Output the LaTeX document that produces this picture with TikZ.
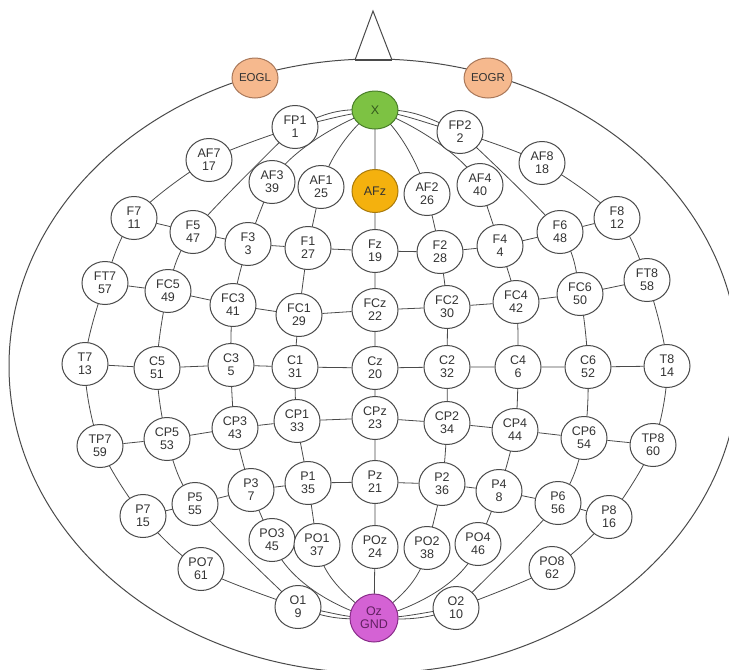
\documentclass[tikz,border=0pt]{standalone}
\usepackage{fontspec}
\setmainfont{Liberation Sans}
\usetikzlibrary{backgrounds,shapes.geometric}
\definecolor{xgreen}{HTML}{7DC243}
\definecolor{xgreenD}{HTML}{4A7F2A}
\definecolor{afzor}{HTML}{F4B10E}
\definecolor{afzorD}{HTML}{A97A0A}
\definecolor{ozmag}{HTML}{D462D4}
\definecolor{ozmagD}{HTML}{8A2D8A}
\definecolor{eogpe}{HTML}{F6B98E}
\definecolor{eogpeD}{HTML}{A9785A}
\definecolor{linec}{HTML}{4A4A4A}
\begin{document}
\begin{tikzpicture}[x=1pt,y=-1pt,
  el/.style={ellipse, draw=linec, line width=1pt, fill=white,
    minimum width=46pt, minimum height=43pt, inner sep=0pt, align=center,
    font=\fontsize{12.5}{13}\selectfont, text=black!80},
  wire/.style={draw=linec, line width=0.8pt},
  mer/.style={wire, smooth, tension=0.5}]
\useasboundingbox (0,0) rectangle (729,670);

% head outline and nose
\draw[wire, line width=1pt] (374,366) ellipse [x radius=365, y radius=307];
\coordinate (nA) at (373,11);
\coordinate (nL) at (355,60);
\coordinate (nR) at (392,60);
\draw[wire, fill=white, line width=1pt] (nL) -- (nA) -- (nR);
\draw[draw=linec, line width=2pt] (nL) -- (nR);

% special nodes
\node[el, fill=eogpe, draw=eogpeD, minimum height=40pt, font=\fontsize{11.5}{12}\selectfont] (EOGL) at (255,78) {EOGL};
\node[el, fill=eogpe, draw=eogpeD, minimum height=40pt, font=\fontsize{11.5}{12}\selectfont] (EOGR) at (488,78) {EOGR};
\node[el, fill=xgreen, draw=xgreenD, minimum height=38pt, text=xgreenD!70!black] (X) at (375,110) {X};

% electrodes
\node[el] (FP1) at (295,127) {FP1\\1};
\node[el] (FP2) at (460,132) {FP2\\2};
\node[el] (AF7) at (209,160) {AF7\\17};
\node[el] (AF8) at (542,163) {AF8\\18};
\node[el] (AF3) at (272,182) {AF3\\39};
\node[el] (AF1) at (321,187) {AF1\\25};
\node[el, fill=afzor, draw=afzorD] (AFz) at (375,191) {AFz};
\node[el] (AF2) at (427,194) {AF2\\26};
\node[el] (AF4) at (480,185) {AF4\\40};

\node[el] (F7) at (134,218) {F7\\11};
\node[el] (F5) at (193,232) {F5\\47};
\node[el] (F3) at (248,244) {F3\\3};
\node[el] (F1) at (308,248) {F1\\27};
\node[el] (Fz) at (375,251) {Fz\\19};
\node[el] (F2) at (440,252) {F2\\28};
\node[el] (F4) at (500,246) {F4\\4};
\node[el] (F6) at (560,232) {F6\\48};
\node[el] (F8) at (617,218) {F8\\12};

\node[el] (FT7) at (105,283) {FT7\\57};
\node[el] (FC5) at (168,291) {FC5\\49};
\node[el] (FC3) at (233,305) {FC3\\41};
\node[el] (FC1) at (299,315) {FC1\\29};
\node[el] (FCz) at (375,310) {FCz\\22};
\node[el] (FC2) at (447,307) {FC2\\30};
\node[el] (FC4) at (516,302) {FC4\\42};
\node[el] (FC6) at (580,294) {FC6\\50};
\node[el] (FT8) at (647,280) {FT8\\58};

\node[el] (T7) at (85,364) {T7\\13};
\node[el] (C5) at (157,368) {C5\\51};
\node[el] (C3) at (231,365) {C3\\5};
\node[el] (C1) at (295,367) {C1\\31};
\node[el] (Cz) at (375,368) {Cz\\20};
\node[el] (C2) at (447,367) {C2\\32};
\node[el] (C4) at (518,367) {C4\\6};
\node[el] (C6) at (588,367) {C6\\52};
\node[el] (T8) at (667,366) {T8\\14};

\node[el] (TP7) at (100,446) {TP7\\59};
\node[el] (CP5) at (167,439) {CP5\\53};
\node[el] (CP3) at (235,428) {CP3\\43};
\node[el] (CP1) at (297,421) {CP1\\33};
\node[el] (CPz) at (375,418) {CPz\\23};
\node[el] (CP2) at (447,423) {CP2\\34};
\node[el] (CP4) at (515,430) {CP4\\44};
\node[el] (CP6) at (584,438) {CP6\\54};
\node[el] (TP8) at (653,445) {TP8\\60};

\node[el] (P7) at (143,516) {P7\\15};
\node[el] (P5) at (195,504) {P5\\55};
\node[el] (P3) at (251,490) {P3\\7};
\node[el] (P1) at (308,483) {P1\\35};
\node[el] (Pz) at (375,482) {Pz\\21};
\node[el] (P2) at (442,484) {P2\\36};
\node[el] (P4) at (499,491) {P4\\8};
\node[el] (P6) at (558,503) {P6\\56};
\node[el] (P8) at (609,517) {P8\\16};

\node[el] (PO7) at (201,569) {PO7\\61};
\node[el] (PO3) at (272,540) {PO3\\45};
\node[el] (PO1) at (317,545) {PO1\\37};
\node[el] (POz) at (375,547) {POz\\24};
\node[el] (PO2) at (427,548) {PO2\\38};
\node[el] (PO4) at (478,544) {PO4\\46};
\node[el] (PO8) at (552,568) {PO8\\62};

\node[el] (O1) at (298,607) {O1\\9};
\node[el, fill=ozmag, draw=ozmagD, minimum height=48pt, minimum width=48pt, text=ozmagD!70!black] (Oz) at (374,618) {Oz\\GND};
\node[el] (O2) at (456,608) {O2\\10};

% meridians
\begin{scope}[on background layer]
% left outer
\draw[wire] (X.center) .. controls +(-38,-2) and +(32,-14) .. (FP1.center);
\draw[mer] plot coordinates {(FP1.center) (AF7.center) (F7.center) (FT7.center) (T7.center) (TP7.center) (P7.center) (PO7.center) (O1.center)};
\draw[wire] (O1.center) .. controls +(32,4) and +(-32,0) .. (Oz.center);
% left second
\draw[wire] (X.center) .. controls +(-35,5) and +(28,-6) .. (FP1.center);
\draw[mer] plot coordinates {(FP1.center) (F5.center) (FC5.center) (C5.center) (CP5.center) (P5.center) (O1.center)};
\draw[wire] (O1.center) .. controls +(30,12) and +(-30,2) .. (Oz.center);
% left third
\draw[wire] (X.center) .. controls +(-32,10) and +(15,-30) .. (AF3.center);
\draw[mer] plot coordinates {(AF3.center) (F3.center) (FC3.center) (C3.center) (CP3.center) (P3.center) (PO3.center)};
\draw[wire] (PO3.center) .. controls +(12,40) and +(-35,-8) .. (Oz.center);
% left fourth
\draw[wire] (X.center) .. controls +(-22,15) and +(8,-30) .. (AF1.center);
\draw[mer] plot coordinates {(AF1.center) (F1.center) (FC1.center) (C1.center) (CP1.center) (P1.center) (PO1.center)};
\draw[wire] (PO1.center) .. controls +(6,35) and +(-22,-18) .. (Oz.center);
% midline
\draw[wire] (X.center) -- (AFz.center) -- (Fz.center) -- (FCz.center) -- (Cz.center) -- (CPz.center) -- (Pz.center) -- (POz.center) -- (Oz.center);
% right fourth
\draw[wire] (X.center) .. controls +(22,15) and +(-8,-30) .. (AF2.center);
\draw[mer] plot coordinates {(AF2.center) (F2.center) (FC2.center) (C2.center) (CP2.center) (P2.center) (PO2.center)};
\draw[wire] (PO2.center) .. controls +(-6,35) and +(22,-18) .. (Oz.center);
% right third
\draw[wire] (X.center) .. controls +(32,10) and +(-15,-30) .. (AF4.center);
\draw[mer] plot coordinates {(AF4.center) (F4.center) (FC4.center) (C4.center) (CP4.center) (P4.center) (PO4.center)};
\draw[wire] (PO4.center) .. controls +(-12,40) and +(35,-8) .. (Oz.center);
% right second
\draw[wire] (X.center) .. controls +(35,5) and +(-28,-6) .. (FP2.center);
\draw[mer] plot coordinates {(FP2.center) (F6.center) (FC6.center) (C6.center) (CP6.center) (P6.center) (O2.center)};
\draw[wire] (O2.center) .. controls +(-30,12) and +(30,2) .. (Oz.center);
% right outer
\draw[wire] (X.center) .. controls +(38,-2) and +(-32,-14) .. (FP2.center);
\draw[mer] plot coordinates {(FP2.center) (AF8.center) (F8.center) (FT8.center) (T8.center) (TP8.center) (P8.center) (PO8.center) (O2.center)};
\draw[wire] (O2.center) .. controls +(-32,4) and +(32,0) .. (Oz.center);
\end{scope}

% latitudes
\draw[wire] (F7) -- (F5) -- (F3) -- (F1) -- (Fz) -- (F2) -- (F4) -- (F6) -- (F8);
\draw[wire] (FT7) -- (FC5) -- (FC3) -- (FC1) -- (FCz) -- (FC2) -- (FC4) -- (FC6) -- (FT8);
\draw[wire] (T7) -- (C5) -- (C3) -- (C1) -- (Cz) -- (C2) -- (C4) -- (C6) -- (T8);
\draw[wire] (TP7) -- (CP5) -- (CP3) -- (CP1) -- (CPz) -- (CP2) -- (CP4) -- (CP6) -- (TP8);
\draw[wire] (P7) -- (P5) -- (P3) -- (P1) -- (Pz) -- (P2) -- (P4) -- (P6) -- (P8);
\end{tikzpicture}
\end{document}
